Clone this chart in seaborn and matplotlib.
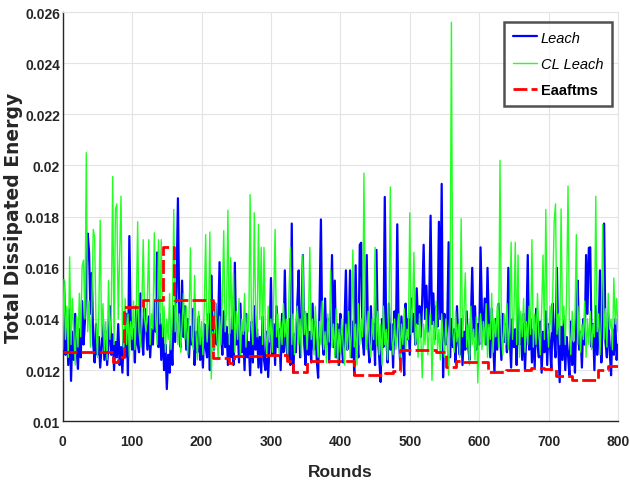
import numpy as np
import pandas as pd
import matplotlib
matplotlib.use("Agg")
import matplotlib.pyplot as plt
import seaborn as sns

# ---------------- data (energy values in units of 1e-5) ----------------
rounds = list(range(0, 801, 2))

leach_e5 = [
    1230,1548,1260,1380,1220,1440,1158,1350,1240,1420,1280,1205,1360,1250,1470,1300,1390,1530,1734,1660,
    1420,1580,1300,1230,1380,1260,1330,1210,1290,1400,1240,1350,1220,1300,1450,1260,1340,1200,1310,1250,
    1380,1220,1290,1190,1350,1250,1420,1180,1724,1390,1280,1360,1230,1450,1300,1270,1500,1340,1260,1440,
    1380,1280,1410,1250,1360,1300,1470,1350,1660,1290,1420,1240,1380,1200,1300,1126,1260,1190,1340,1220,
    1450,1310,1520,1872,1400,1290,1550,1330,1450,1280,1400,1250,1370,1300,1440,1220,1350,1270,1410,1240,
    1330,1210,1380,1290,1250,1420,1200,1570,1350,1280,1460,1300,1390,1622,1350,1260,1430,1290,1370,1220,
    1340,1250,1410,1220,1620,1300,1380,1230,1460,1270,1350,1200,1420,1250,1310,1180,1390,1230,1450,1280,
    1360,1210,1330,1190,1410,1240,1200,1350,1173,1300,1560,1260,1380,1220,1450,1290,1360,1200,1420,1270,
    1590,1300,1250,1400,1220,1773,1190,1340,1270,1460,1590,1250,1380,1650,1300,1220,1420,1260,1350,1230,
    1460,1280,1390,1240,1170,1450,1789,1320,1260,1480,1300,1400,1230,1370,1650,1290,1550,1250,1380,1220,
    1420,1300,1230,1380,1590,1280,1340,1590,1250,1390,1180,1610,1300,1250,1690,1698,1320,1260,1420,1650,
    1300,1230,1450,1280,1380,1220,1670,1330,1250,1154,1400,1290,1877,1340,1230,1460,1280,1380,1210,1430,
    1300,1770,1350,1240,1410,1290,1180,1460,1320,1400,1260,1480,1350,1420,1300,1520,1380,1450,1330,1480,
    1690,1400,1530,1350,1460,1804,1380,1500,1320,1450,1370,1780,1400,1928,1172,1420,1300,1380,1700,1250,
    1400,1290,1360,1230,1450,1310,1260,1400,1220,1350,1280,1430,1300,1240,1390,1600,1330,1450,1280,1380,
    1300,1680,1420,1350,1480,1300,1600,1380,1250,1440,1320,1190,1400,1280,1460,1350,1240,1420,1310,1380,
    1270,1600,1330,1210,1400,1290,1360,1220,1460,1300,1380,1240,1420,1200,1350,1650,1280,1400,1230,1360,
    1210,1440,1300,1250,1390,1190,1350,1270,1430,1220,1380,1300,1200,1460,1320,1250,1600,1290,1153,1370,
    1240,1410,1200,1330,1260,1180,1390,1220,1310,1190,1420,1550,1280,1350,1210,1400,1300,1650,1420,1678,
    1680,1290,1380,1200,1450,1260,1340,1590,1230,1410,1773,1310,1250,1420,1280,1180,1360,1260,1400,1240,
    1300,
]

cl_leach_e5 = [
    1280,1555,1320,1450,1250,1643,1300,1480,1350,1220,1410,1290,1500,1330,1607,1630,1400,2050,1350,1470,
    1290,1450,1750,1720,1380,1250,1420,1786,1330,1460,1270,1390,1240,1550,1320,1420,1957,1300,1828,1850,
    1400,1650,1880,1360,1270,1480,1300,1420,1250,1390,1320,1470,1280,1420,1780,1350,1290,1450,1710,1400,
    1350,1480,1710,1300,1420,1360,1737,1400,1300,1710,1380,1710,1330,1450,1270,1400,1320,1500,1280,1420,
    1828,1350,1460,1300,1420,1270,1380,1500,1320,1450,1260,1400,1678,1330,1280,1570,1350,1240,1430,1300,
    1390,1260,1450,1730,1310,1400,1740,1165,1350,1280,1460,1330,1250,1410,1300,1480,1745,1350,1420,1825,
    1300,1640,1360,1580,1270,1430,1320,1480,1250,1400,1340,1500,1290,1420,1350,1886,1380,1300,1815,1420,
    1330,1770,1400,1680,1300,1680,1350,1250,1450,1310,1400,1270,1480,1750,1330,1420,1260,1390,1300,1460,
    1330,1400,1240,1500,1680,1300,1420,1260,1380,1450,1300,1400,1250,1650,1340,1430,1280,1380,1680,1320,
    1400,1260,1450,1330,1250,1390,1300,1470,1280,1350,1230,1420,1310,1590,1290,1380,1250,1440,1220,1360,
    1270,1400,1300,1220,1380,1280,1430,1250,1350,1670,1290,1380,1220,1460,1300,1400,1330,1970,1350,1280,
    1430,1310,1250,1400,1320,1680,1300,1430,1260,1380,1220,1450,1300,1360,1240,1420,1916,1330,1260,1400,
    1280,1350,1420,1250,1380,1300,1440,1270,1360,1320,1815,1340,1450,1660,1300,1380,1250,1420,1330,1170,
    1380,1300,1440,1260,1350,1420,1160,1390,1300,1470,1280,1360,1240,1420,1320,1250,1400,1300,1180,1380,
    2560,1350,1270,1430,1310,1380,1250,1792,1330,1420,1580,1290,1380,1220,1450,1300,1360,1240,1410,1150,
    1340,1420,1280,1390,1300,1460,1250,1380,1320,1500,1270,1400,1330,1450,1290,2020,1350,1260,1420,1300,
    1460,1280,1380,1700,1320,1410,1700,1300,1650,1250,1430,1330,1480,1270,1390,1300,1450,1340,1710,1290,
    1420,1300,1500,1350,1260,1430,1650,1320,1828,1380,1290,1450,1350,1500,1780,1850,1340,1420,1300,1830,
    1380,1450,1300,1500,1920,1350,1260,1430,1310,1400,1730,1300,1450,1270,1380,1320,1470,1250,1400,1300,
    1430,1280,1380,1330,1880,1350,1420,1260,1400,1770,1320,1440,1290,1500,1360,1400,1280,1560,1380,1480,
    1350,
]

# Eaaftms: piecewise-constant levels between round boundaries
eaaftms_edges = [0, 72, 80, 88, 115, 144, 160, 217, 239, 247, 290, 323, 332, 352, 420,
                 465, 476, 486, 538, 552, 567, 576, 612, 639, 675, 693, 711, 734, 771, 786, 800]
eaaftms_levels = [0.01269, 0.01230, 0.01253, 0.01445, 0.01473, 0.01682, 0.01473, 0.01247,
                  0.01227, 0.01256, 0.01261, 0.01236, 0.01194, 0.01234, 0.01182, 0.01187,
                  0.01197, 0.01279, 0.01271, 0.01214, 0.01235, 0.01230, 0.01194, 0.01201,
                  0.01209, 0.01204, 0.01179, 0.01162, 0.01200, 0.01216]

series_names = ["Leach", "CL Leach", "Eaaftms"]
x_ticks = [0, 100, 200, 300, 400, 500, 600, 700, 800]
y_ticks = [0.010, 0.012, 0.014, 0.016, 0.018, 0.020, 0.022, 0.024, 0.026]
y_tick_labels = ["0.01", "0.012", "0.014", "0.016", "0.018", "0.02", "0.022", "0.024", "0.026"]

# ---------------- build frames ----------------
df_leach = pd.DataFrame({"Rounds": rounds, "Energy": np.array(leach_e5) * 1e-5})
df_cl = pd.DataFrame({"Rounds": rounds, "Energy": np.array(cl_leach_e5) * 1e-5})
df_ea = pd.DataFrame({"Rounds": eaaftms_edges,
                      "Energy": eaaftms_levels + [eaaftms_levels[-1]]})

# ---------------- fonts ----------------
sns.set_style("whitegrid")
plt.rcParams["font.family"] = ["Liberation Sans", "DejaVu Sans"]
tick_size = 10

# ---------------- plot ----------------
fig = plt.figure(figsize=(6.3, 4.85), dpi=100)
ax_left, ax_right, ax_top, ax_bottom = 62.7, 618.0, 13.0, 422.3
ax = fig.add_axes([ax_left / 630, 1 - ax_bottom / 485,
                   (ax_right - ax_left) / 630, (ax_bottom - ax_top) / 485])

sns.lineplot(data=df_leach, x="Rounds", y="Energy", ax=ax, color="#0000ff",
             linewidth=1.6, estimator=None, label=series_names[0], zorder=2)
sns.lineplot(data=df_cl, x="Rounds", y="Energy", ax=ax, color="#22ff22",
             linewidth=1.0, estimator=None, label=series_names[1], zorder=3)
sns.lineplot(data=df_ea, x="Rounds", y="Energy", ax=ax, color="#ff0000",
             linewidth=2.0, estimator=None, label=series_names[2], zorder=4,
             drawstyle="steps-post", dashes=False)
ax.lines[-1].set_linestyle((0, (5, 1.5)))

ax.set_xlim(0, 800)
ax.set_ylim(0.010, 0.026)
ax.set_xticks(x_ticks)
ax.set_xticklabels([str(t) for t in x_ticks])
ax.set_yticks(y_ticks)
ax.set_yticklabels(y_tick_labels)
for lab in ax.get_xticklabels() + ax.get_yticklabels():
    lab.set_fontweight("bold")
    lab.set_fontsize(tick_size)
    lab.set_color("#262626")

ax.grid(True, color="#e3e3e3", linewidth=0.8)
ax.set_axisbelow(True)
for s in ["top", "right"]:
    ax.spines[s].set_color("#e3e3e3")
    ax.spines[s].set_linewidth(0.8)
for s in ["left", "bottom"]:
    ax.spines[s].set_color("#262626")
    ax.spines[s].set_linewidth(1.0)
ax.tick_params(axis="both", which="both", length=3, direction="in", color="#262626")
ax.tick_params(axis="x", pad=9)
ax.tick_params(axis="y", pad=2)

ax.set_xlabel("Rounds", fontsize=12.5, fontweight="bold", color="#262626")
ax.xaxis.set_label_coords(0.5, -0.104)
ax.set_ylabel("Total Dissipated Energy", fontsize=13.5, fontweight="bold", color="#262626",
              family=["DejaVu Sans"])
ax.yaxis.set_label_coords(-0.071, 0.5)

leg = ax.legend(loc="upper right", bbox_to_anchor=(0.9895, 0.976), borderaxespad=0,
                frameon=True, fancybox=False, fontsize=10.5, handlelength=1.6,
                handletextpad=0.3, borderpad=0.6, labelspacing=0.85)
leg.get_frame().set_edgecolor("#262626")
leg.get_frame().set_linewidth(1.8)
texts = leg.get_texts()
texts[0].set_fontstyle("italic")
texts[1].set_fontstyle("italic")
texts[2].set_fontweight("bold")
for t in texts:
    t.set_color("black")

fig.savefig("out.png", dpi=100)
